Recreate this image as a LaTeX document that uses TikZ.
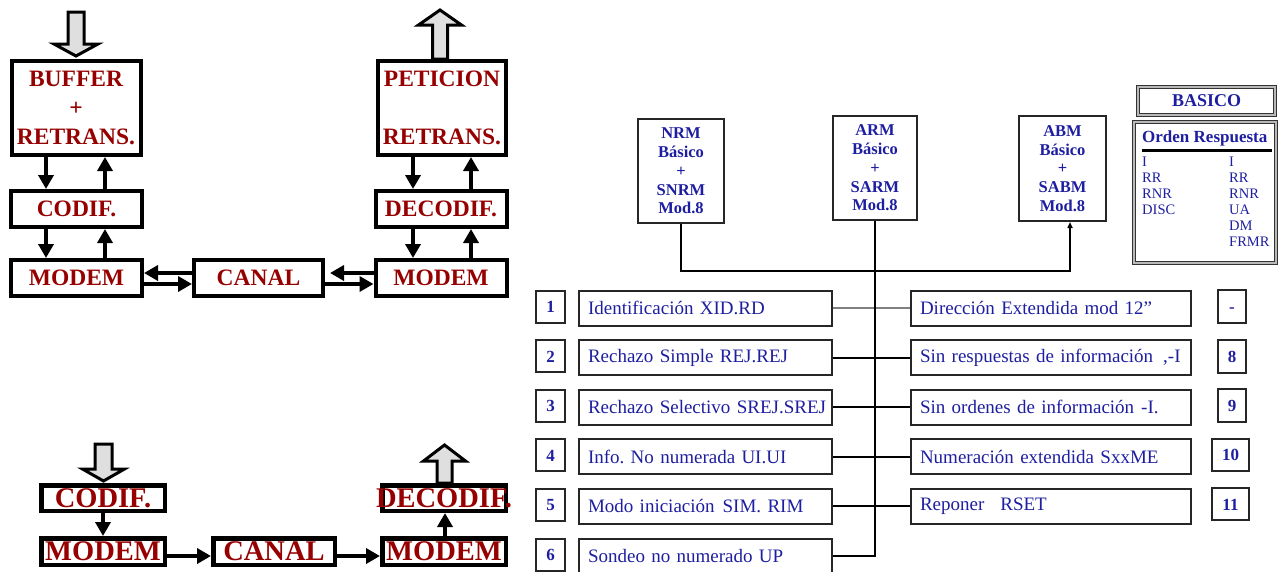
\documentclass[tikz,border=0pt]{standalone}
\usepackage{fontspec}
\setmainfont{Liberation Serif}
\usepackage{tikz}
\usetikzlibrary{arrows.meta,calc,positioning}
\definecolor{rojo}{RGB}{150,0,0}
\definecolor{azul}{RGB}{30,30,160}
\frenchspacing

\begin{document}
\begin{tikzpicture}[x=1pt,y=-1pt,
    bloque/.style={draw,line width=4pt,inner sep=0pt,text=rojo,align=center,
      font=\fontsize{23.5}{29}\selectfont\bfseries},
    bloqueg/.style={draw,line width=4.5pt,inner sep=0pt,text=rojo,
      font=\fontsize{28.5}{30}\selectfont\bfseries},
    flecha/.style={line width=4pt,-{Triangle[length=14pt,width=15pt]}},
    hueca/.style={draw,line width=3pt,fill=gray!25,line join=miter},
    modo/.style={draw=black!85,line width=2pt,inner sep=0pt,text=azul,align=center,
      font=\fontsize{16.5}{18.75}\selectfont\bfseries},
    orden/.style={draw=black!85,line width=2pt,inner xsep=9pt,inner ysep=0pt,text=azul,
      align=left,minimum height=35pt,font=\fontsize{19}{22}\selectfont},
    num/.style={draw=black!85,line width=2pt,inner sep=0pt,text=azul,
      text height=12pt,text depth=0pt,font=\fontsize{17}{20}\selectfont\bfseries},
    marco/.style={draw=black!80,line width=1.2pt,double=gray!55,double distance=1.5pt},
    enlace/.style={line width=2pt},
  ]
  \useasboundingbox (0,0) rectangle (1280,571);
  \clip (0,0) rectangle (1280,571);

  % ARQ: emisor y receptor
  \node[bloque,minimum width=129pt,minimum height=94pt] (buf) at (76,108) {BUFFER\\+\\RETRANS.};
  \node[bloque,minimum width=128pt,minimum height=94pt] (pet) at (442,108) {PETICION\\[29pt]RETRANS.};
  \node[bloque,minimum width=131pt,minimum height=36pt] (cod) at (76.5,209) {CODIF.};
  \node[bloque,minimum width=131pt,minimum height=36pt] (dec) at (441,209) {DECODIF.};
  \node[bloque,minimum width=131pt,minimum height=36pt] (modL) at (76.5,278) {MODEM};
  \node[bloque,minimum width=129pt,minimum height=36pt] (canal) at (258.5,278) {CANAL};
  \node[bloque,minimum width=131pt,minimum height=36pt] (modR) at (441,278) {MODEM};

  % flechas huecas
  \draw[hueca,shift={([yshift=3pt]buf.north)}] (0,0) -- (22,-12) -- (8,-12) -- (8,-44)
    -- (-8,-44) -- (-8,-12) -- (-22,-12) -- cycle;
  \draw[hueca,shift={([xshift=-2pt,yshift=49pt]pet.north)}] (0,0) -- (21.5,15) -- (7.5,15)
    -- (7.5,49) -- (-7.5,49) -- (-7.5,15) -- (-21.5,15) -- cycle;

  % ida y vuelta
  \draw[flecha] ([xshift=-30pt]buf.south) -- ([xshift=-30.5pt]cod.north);
  \draw[flecha] ([xshift=28.5pt]cod.north) -- ([xshift=29pt]buf.south);
  \draw[flecha] ([xshift=-30.5pt]cod.south) -- ([xshift=-30.5pt]modL.north);
  \draw[flecha] ([xshift=28.5pt]modL.north) -- ([xshift=28.5pt]cod.south);
  \draw[flecha] ([xshift=-29pt]pet.south) -- ([xshift=-28pt]dec.north);
  \draw[flecha] ([xshift=30pt]dec.north) -- ([xshift=29pt]pet.south);
  \draw[flecha] ([xshift=-28pt]dec.south) -- ([xshift=-28pt]modR.north);
  \draw[flecha] ([xshift=30pt]modR.north) -- ([xshift=30pt]dec.south);
  \draw[flecha] ([yshift=5pt]canal.west) -- ([yshift=5pt]modL.east);
  \draw[flecha] ([yshift=-6pt]modL.east) -- ([yshift=-6pt]canal.west);
  \draw[flecha,shorten >=5pt] ([yshift=5pt]modR.west) -- ([yshift=5pt]canal.east);
  \draw[flecha] ([yshift=-6pt]canal.east) -- ([yshift=-6pt]modR.west);

  % sin retransmision
  \node[bloqueg,minimum width=123.5pt,minimum height=25.5pt] (cod2) at (103,498) {CODIF.};
  \node[bloqueg,minimum width=123.5pt,minimum height=25.5pt] (dec2) at (444,498) {\makebox[0pt]{DECODIF.}};
  \node[bloqueg,minimum width=123.5pt,minimum height=26.5pt] (modL2) at (103,551.5) {MODEM};
  \node[bloqueg,minimum width=121.5pt,minimum height=26.5pt] (canal2) at (274,551.5) {CANAL};
  \node[bloqueg,minimum width=123.5pt,minimum height=26.5pt] (modR2) at (444,551.5) {MODEM};
  \draw[hueca,shift={([xshift=0.5pt,yshift=2pt]cod2.north)}] (0,0) -- (21,-12) -- (8.5,-12)
    -- (8.5,-37) -- (-8.5,-37) -- (-8.5,-12) -- (-21,-12) -- cycle;
  \draw[hueca,shift={([xshift=0.5pt,yshift=38pt]dec2.north)}] (0,0) -- (21,16) -- (7.5,16)
    -- (7.5,38) -- (-7.5,38) -- (-7.5,16) -- (-21,16) -- cycle;
  \draw[flecha] (cod2.south) -- (modL2.north);
  \draw[flecha] ([yshift=-4.5pt]modL2.east) -- ([yshift=-4.5pt]canal2.west);
  \draw[flecha] ([yshift=-4.5pt]canal2.east) -- ([yshift=-4.5pt]modR2.west);
  \draw[flecha] ([xshift=1pt]modR2.north) -- ([xshift=1pt]dec2.south);

  % modos HDLC
  \node[modo,minimum width=86pt,minimum height=104pt] (nrm) at (681,171) {NRM\\Básico\\+\\SNRM\\Mod.8};
  \node[modo,minimum width=84pt,minimum height=104pt] (arm) at (875,168) {ARM\\Básico\\+\\SARM\\Mod.8};
  \node[modo,minimum width=87pt,minimum height=105pt] (abm) at (1062.5,168.5) {ABM\\Básico\\+\\SABM\\Mod.8};
  \draw[enlace,line width=1.5pt,-{Triangle[length=6pt,width=5pt]}] (nrm.south) -- ++(0,47)
    -| ([xshift=7.5pt]abm.south);

  % tabla basico
  \node[marco,minimum width=137pt,minimum height=28pt,text=azul,
    font=\fontsize{18}{20}\selectfont\bfseries] (basico) at (1206.5,101) {BASICO};
  \node[marco,minimum width=142pt,minimum height=141pt] (panel) at (1205,192.5) {};
  \node[anchor=west,inner sep=0pt,text=azul,font=\fontsize{17}{20}\selectfont\bfseries]
    (cab) at (1142,138) {Orden Respuesta};
  \draw[line width=3pt] (1142,150) -- (1272,150);
  \node[anchor=north west,inner sep=0pt,align=left,text=azul,font=\fontsize{14.5}{16}\selectfont]
    (ord) at (1142,157) {I\\RR\\RNR\\DISC};
  \node[anchor=north west,inner sep=0pt,align=left,text=azul,font=\fontsize{14.5}{16}\selectfont]
    (resp) at (1229,157) {I\\RR\\RNR\\UA\\DM\\FRMR};

  % opciones
  \node[num,minimum width=29pt,minimum height=32pt] (n1) at (550.5,306.5) {1};
  \node[num,minimum width=29pt,minimum height=32pt] (n2) at (550.5,356.1) {2};
  \node[num,minimum width=29pt,minimum height=32pt] (n3) at (550.5,405.7) {3};
  \node[num,minimum width=29pt,minimum height=32pt] (n4) at (550.5,455.3) {4};
  \node[num,minimum width=29pt,minimum height=32pt] (n5) at (550.5,504.9) {5};
  \node[num,minimum width=29pt,minimum height=32pt] (n6) at (550.5,554.5) {6};

  \node[orden,text width=235pt] (t1) at (705.5,308) {\mbox{Identificación XID.RD}};
  \node[orden,text width=235pt] (t2) at (705.5,357.6) {\mbox{Rechazo Simple REJ.REJ}};
  \node[orden,text width=235pt] (t3) at (705.5,407.2) {\mbox{Rechazo Selectivo SREJ.SREJ}};
  \node[orden,text width=235pt] (t4) at (705.5,456.8) {\mbox{Info. No numerada UI.UI}};
  \node[orden,text width=235pt] (t5) at (705.5,506.4) {\mbox{Modo iniciación\hspace{8pt}SIM. RIM}};
  \node[orden,text width=235pt] (t6) at (705.5,556) {\mbox{Sondeo no numerado UP}};

  \node[orden,text width=262pt] (r1) at (1051,308) {\mbox{Dirección Extendida mod 12”}};
  \node[orden,text width=262pt] (r2) at (1051,357.6) {\mbox{Sin respuestas de información\hspace{10pt},-I}};
  \node[orden,text width=262pt] (r3) at (1051,407.2) {\mbox{Sin ordenes de información\hspace{7pt}-I.}};
  \node[orden,text width=262pt] (r4) at (1051,456.8) {\mbox{Numeración extendida SxxME}};
  \node[orden,text width=262pt] (r5) at (1051,506.4) {\mbox{Reponer\hspace{16pt}RSET}};

  \node[num,minimum width=28pt,minimum height=33pt] (m7) at (1232,306.5) {-};
  \node[num,minimum width=28pt,minimum height=33pt] (m8) at (1232,356.1) {8};
  \node[num,minimum width=28pt,minimum height=33pt] (m9) at (1232,405.7) {9};
  \node[num,minimum width=37pt,minimum height=32pt] (m10) at (1230.5,454.8) {10};
  \node[num,minimum width=37pt,minimum height=32pt] (m11) at (1230.5,504.4) {11};

  % uniones
  \draw[gray,line width=1.5pt] (t1.east) -- (r1.west);
  \draw[enlace] (t2.east) -- (r2.west);
  \draw[enlace] (t3.east) -- (r3.west);
  \draw[enlace] (t4.east) -- (r4.west);
  \draw[enlace] (t5.east) -- (r5.west);
  \draw[enlace] (arm.south) |- (t6.east);
\end{tikzpicture}
\end{document}
